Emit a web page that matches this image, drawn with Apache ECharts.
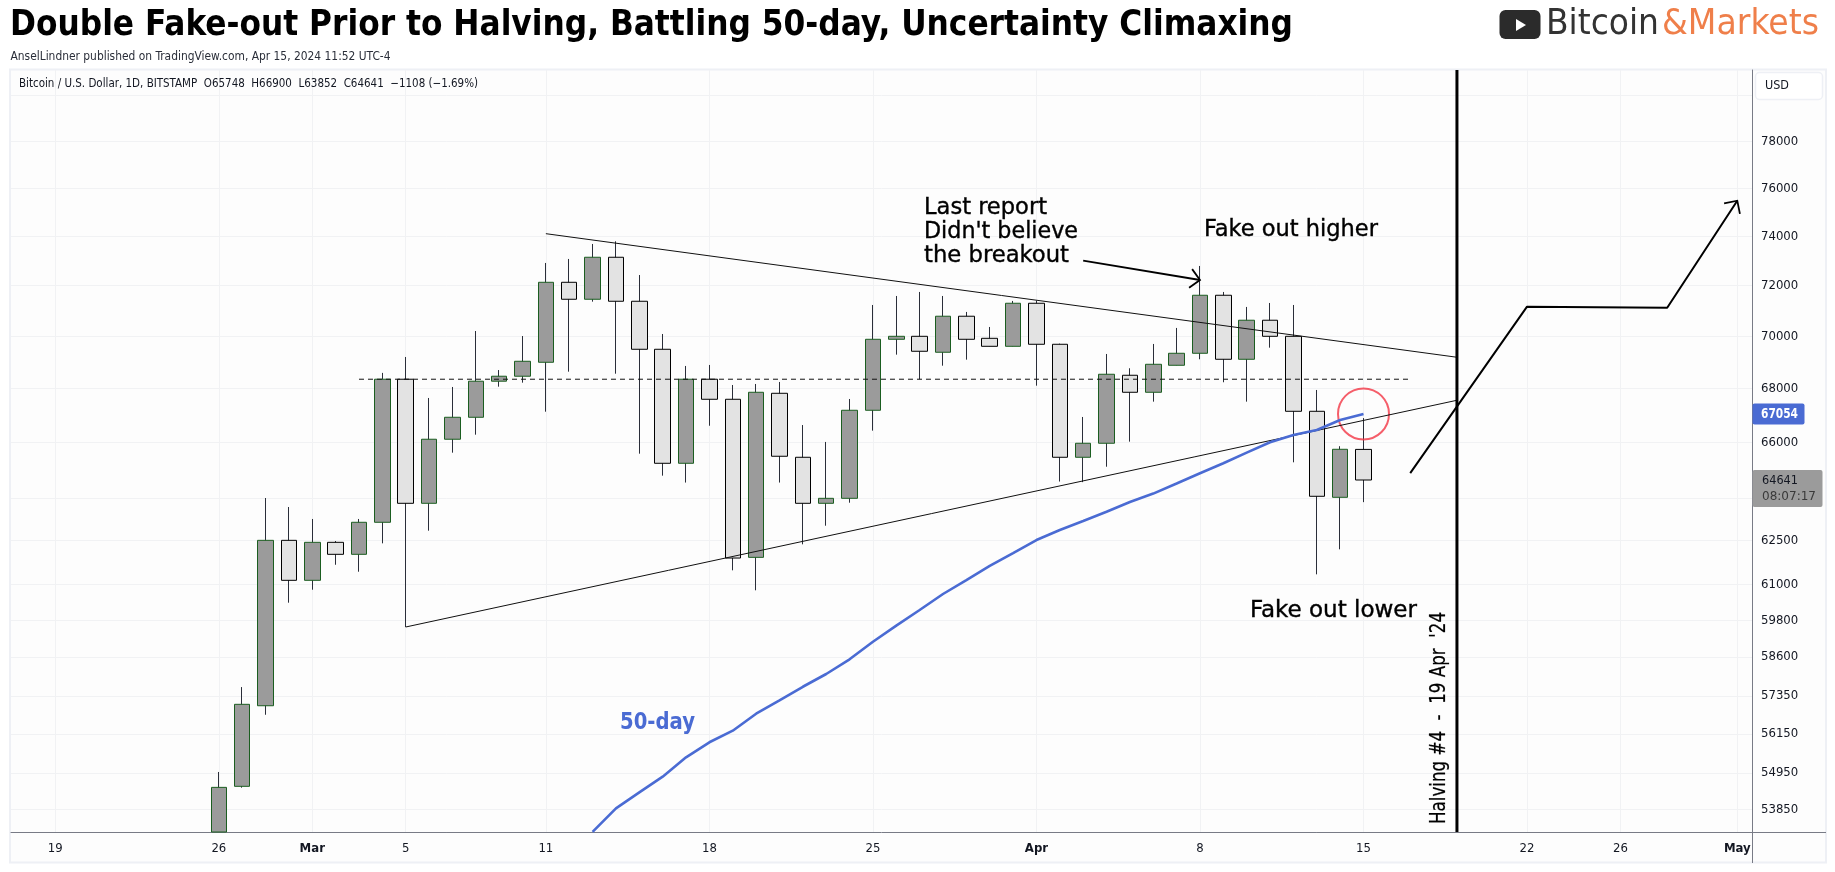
<!DOCTYPE html>
<html>
<head>
<meta charset="utf-8">
<style>html,body{margin:0;padding:0;background:#fff}#c{width:1835px;height:872px}</style>
<script src="https://cdn.jsdelivr.net/npm/echarts@6/dist/echarts.min.js"></script>
</head>
<body>
<div id="c"></div>
<script>
const candleDates = ['02-26','02-27','02-28','02-29','03-01','03-02','03-03','03-04','03-05','03-06','03-07','03-08','03-09','03-10','03-11','03-12','03-13','03-14','03-15','03-16','03-17','03-18','03-19','03-20','03-21','03-22','03-23','03-24','03-25','03-26','03-27','03-28','03-29','03-30','03-31','04-01','04-02','04-03','04-04','04-05','04-06','04-07','04-08','04-09','04-10','04-11','04-12','04-13','04-14','04-15'];
const opens  = [53177,54541,57034,62514,61143,62445,62031,63143,68357,63811,66119,66930,68282,68471,69003,72133,71457,73141,71378,69502,65243,68357,67601,61927,67826,65461,63811,63988,67190,69888,70004,69387,70788,69926,69617,71299,69695,65461,65972,68508,67864,68888,69348,71616,69118,70631,70004,67152,64024,65748];
const highs  = [54977,57628,63999,63680,63259,62490,63259,68598,69206,67650,68064,70210,68706,70015,72910,73072,73682,73792,72424,70094,68862,68900,68139,68177,68253,66642,66020,67612,71231,71587,71747,71587,70956,70367,71390,71401,69720,66941,69321,68774,69707,70329,72789,71747,71153,71310,71231,67951,65864,66900];
const lows   = [53177,54500,56750,60389,60825,61673,61435,62410,59580,62849,65628,66287,68075,68227,67137,68644,71362,68567,65592,64797,64550,66616,61483,60805,64550,62376,63023,63832,66435,69295,68357,68872,69103,69617,69617,68113,64586,64564,65119,66031,67512,68888,69118,68242,67512,69564,65279,61346,62203,63852];
const closes = [54510,57079,62514,61143,62445,62031,63143,68357,63811,66119,66930,68282,68471,69041,72133,71457,73141,71378,69502,65243,68357,67601,61903,67864,65498,63811,63988,67190,69888,70004,69425,70788,69888,69617,71299,69695,65461,65972,68546,67864,68926,69348,71616,69118,70631,70004,67152,64060,65752,64641];

const maDates = ['03-13','03-14','03-15','03-16','03-17','03-18','03-19','03-20','03-21','03-22','03-23','03-24','03-25','03-26','03-27','03-28','03-29','03-30','03-31','04-01','04-02','04-03','04-04','04-05','04-06','04-07','04-08','04-09','04-10','04-11','04-12','04-13','04-14','04-15'];
const ma50 = [53180,53880,54360,54834,55425,55890,56250,56783,57205,57638,58047,58522,59095,59626,60145,60681,61153,61632,62075,62525,62873,63189,63514,63857,64156,64517,64886,65243,65628,66009,66277,66461,66829,67054];

const upperTrend = [['03-11',74104],['04-19',69195]];
const lowerTrend = [['03-05',59580],['04-19',67564]];
const resistance = [['03-03',68357],['04-17',68357]];
const forecastPath = [['04-17',64886],['04-22',71164],['04-28',71124],['05-01',75472]];
const reportArrow = [['04-03',73003],['04-08',72224]];
const halvingDate = '04-19';
const circlePoint = ['04-15',67054];

const xTickDates  = ['02-19','02-26','03-01','03-05','03-11','03-18','03-25','04-01','04-08','04-15','04-22','04-26','05-01'];
const xTickLabels = ['19','26','Mar','5','11','18','25','Apr','8','15','22','26','May'];
const yGridValues = [80000,78000,76000,74000,72000,70000,68000,66000,64000,62500,61000,59800,58600,57350,56150,54950,53850];
const yLabelValues = [78000,76000,74000,72000,70000,68000,66000,62500,61000,59800,58600,57350,56150,54950,53850];
const lastClose = 64641, lastMA = 67054;

// x axis unit: days since 19 Feb 2024
const T = s => { const [m,d] = s.split('-').map(Number); return Math.round((Date.UTC(2024, m-1, d) - Date.UTC(2024,1,19)) / 86400000); };
const xMin = -1.896, xMax = 72.63;
const yMin = 53177, yMax = 81146;
const pts = a => a.map(p => [T(p[0]), p[1]]);
const FONT = '"DejaVu Sans Condensed","DejaVu Sans",sans-serif';
const AX = '#131722';

const mctx = document.createElement('canvas').getContext('2d');
function fit(text, x, y, w, size, color, weight, extra, sw) {
  mctx.font = (weight||'normal')+' '+size+'px '+FONT;
  const sx = w / mctx.measureText(text).width;
  const style = {text, x:0, y:0, fontFamily:FONT, fontSize:size, fontWeight:weight||'normal', fill:color, align:'left', verticalAlign:'middle'};
  if (sw) { style.stroke = color; style.lineWidth = sw; }
  return Object.assign({type:'text', x, y, scaleX:sx, z:60, silent:true, style}, extra||{});
}
const hline = (x1,y,x2,c,w) => ({type:'line', z:55, silent:true, shape:{x1,y1:y,x2,y2:y}, style:{stroke:c,lineWidth:w||1}});
const vline = (x,y1,y2,c,w) => ({type:'line', z:55, silent:true, shape:{x1:x,y1,x2:x,y2}, style:{stroke:c,lineWidth:w||1}});

const chart = echarts.init(document.getElementById('c'), null, {renderer:'canvas'});
const arrowHead = 'path://M-1 1L0 0L1 1M-1 -1';
const tip = (p, rot) => ({value:p, symbol:arrowHead, symbolSize:19, symbolRotate:rot,
  itemStyle:{color:'transparent', borderColor:'#000', borderWidth:1.8}});
const lineS = (name, data, c, w, extra) => Object.assign({type:'line', name, data, symbol:'none', showSymbol:true, showAllSymbol:true, animation:false, silent:true,
  lineStyle:{color:c, width:w}, itemStyle:{color:c}}, extra||{});

const fp = pts(forecastPath), ra = pts(reportArrow);
const xTicks = xTickDates.map(T);
chart.setOption({
  animation:false,
  backgroundColor:'#fff',
  grid:{left:11, right:83, top:70, bottom:40, containLabel:false},
  xAxis:{type:'value', min:xMin, max:xMax,
    axisLine:{show:true, onZero:false, lineStyle:{color:'#787b86', width:1}},
    axisTick:{show:false, customValues:xTicks},
    axisLabel:{show:true, customValues:xTicks, margin:10, fontFamily:FONT, fontSize:13, color:AX, hideOverlap:false, showMinLabel:true, showMaxLabel:true,
      formatter:v => { const s = xTickLabels[xTicks.indexOf(Math.round(v))]; return s===undefined ? '' : (/[a-z]/i.test(s) ? '{m|'+s+'}' : s); },
      rich:{m:{fontFamily:FONT, fontSize:13, fontWeight:'bold', color:AX}}},
    splitLine:{show:true, lineStyle:{color:'#f1f2f4', width:1}}
  },
  yAxis:{type:'log', logBase:10, position:'right', min:yMin, max:yMax,
    axisLine:{show:true, onZero:false, lineStyle:{color:'#787b86', width:1}},
    axisTick:{show:false, customValues:yGridValues},
    axisLabel:{show:true, customValues:yLabelValues, margin:9, fontFamily:FONT, fontSize:13, color:AX, formatter:v => String(Math.round(v))},
    splitLine:{show:true, lineStyle:{color:'#f1f2f4', width:1}},
    minorTick:{show:false}, minorSplitLine:{show:false}
  },
  series:[
    {type:'candlestick', name:'wicks', barWidth:1, silent:true,
      itemStyle:{color:'#2a2e39', color0:'#2a2e39', borderColor:'#2a2e39', borderColor0:'#2a2e39', borderWidth:1},
      data:candleDates.map((d,i)=>[T(d),opens[i],closes[i],lows[i],highs[i]])},
    {type:'candlestick', name:'BTCUSD', barWidth:16, silent:true,
      itemStyle:{color:'#9b9b9b', color0:'#e3e3e3', borderColor:'#1b5e20', borderColor0:'#000000', borderWidth:1},
      data:candleDates.map((d,i)=>[T(d),opens[i],closes[i],Math.min(opens[i],closes[i]),Math.max(opens[i],closes[i])])},
    lineS('resistance', pts(resistance), '#111', 1, {lineStyle:{color:'#111',width:1,type:[5,4]}}),
    lineS('upper', pts(upperTrend), '#111', 1),
    lineS('lower', pts(lowerTrend), '#111', 1),
    lineS('50-day', maDates.map((d,i)=>[T(d),ma50[i]]), '#4a6bd3', 2.6),
    lineS('forecast', [fp[0],fp[1],fp[2],tip(fp[3],-33.7)], '#000', 2),
    lineS('report', [ra[0],tip(ra[1],-99.3)], '#000', 1.8),
    lineS('halving', [[T(halvingDate),yMin],[T(halvingDate),yMax]], '#000', 3),
    {type:'scatter', name:'circle', silent:true, symbol:'circle', symbolSize:51, clip:false,
      itemStyle:{color:'transparent', borderColor:'#f23645', borderWidth:2},
      data:[[T(circlePoint[0]),circlePoint[1]]]}
  ]
});

const yTag = v => chart.convertToPixel({yAxisIndex:0}, v);
const yMA = yTag(lastMA), yC = yTag(lastClose);
chart.setOption({graphic:{elements:[
  {type:'rect', z:-10, silent:true, shape:{x:10,y:69.5,width:1816,height:793}, style:{fill:'#fdfdfd', stroke:'#eef0f5', lineWidth:2}},
  hline(1752,832.5,1826,'#787b86'),
  vline(1752.5,832,863,'#787b86'),
  fit('Double Fake-out Prior to Halving, Battling 50-day, Uncertainty Climaxing', 10, 26, 1283, 35, '#000', 'bold'),
  fit('AnselLindner published on TradingView.com, Apr 15, 2024 11:52 UTC-4', 10.5, 57, 380, 12, '#2a2e39'),
  fit('Bitcoin / U.S. Dollar, 1D, BITSTAMP  O65748  H66900  L63852  C64641  \u22121108 (\u22121.69%)', 19, 83.5, 459, 12, '#131722'),
  {type:'rect', z:60, silent:true, shape:{x:1499.5,y:10,width:41,height:29,r:6}, style:{fill:'#2b2b2b'}},
  {type:'polygon', z:61, silent:true, shape:{points:[[1516,19],[1526,25],[1516,31]]}, style:{fill:'#fff'}},
  fit('Bitcoin', 1546, 25, 113, 35, '#333'),
  fit('&Markets', 1662, 25, 157, 35, '#ef7f4a'),
  fit('Last report', 924, 208, 123, 23, '#000', 'normal', null, 0.35),
  fit("Didn't believe", 924, 232.5, 154, 23, '#000', 'normal', null, 0.35),
  fit('the breakout', 924, 256.5, 145, 23, '#000', 'normal', null, 0.35),
  fit('Fake out higher', 1204, 230, 174, 23, '#000', 'normal', null, 0.35),
  fit('Fake out lower', 1250, 611, 167, 23, '#000', 'normal', null, 0.35),
  fit('50-day', 620, 723, 75, 23, '#4a6bd3', 'bold'),
  fit("Halving #4  -  19 Apr  '24", 1440, 824, 212, 20.5, '#000', 'normal', {rotation:Math.PI/2}, 0.2),
  {type:'rect', z:60, silent:true, shape:{x:1755.5,y:72.5,width:67,height:27,r:4}, style:{fill:'#fff', stroke:'#eef0f5', lineWidth:1.5}},
  fit('USD', 1765, 86, 24, 13, '#131722'),
  {type:'rect', z:60, silent:true, shape:{x:1752.5,y:yMA-10.5,width:52,height:21,r:2}, style:{fill:'#4a6bd3'}},
  fit(String(lastMA), 1761, yMA, 37, 14, '#fff', 'bold'),
  {type:'rect', z:60, silent:true, shape:{x:1752.5,y:yC-10,width:70,height:37,r:2}, style:{fill:'#9b9b9b'}},
  fit(String(lastClose), 1762, yC+1, 36, 13, '#131722'),
  fit('08:07:17', 1762, yC+17, 54, 13, '#3a3a3a')
]}});
</script>
</body>
</html>
